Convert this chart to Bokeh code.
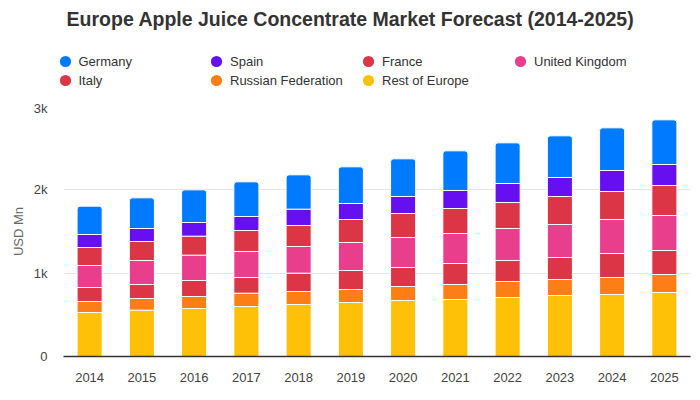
from bokeh.plotting import figure
from bokeh.layouts import column, row
from bokeh.models import (FactorRange, Range1d, FixedTicker, Legend, LegendItem,
                          ColumnDataSource, Label)
from bokeh.embed import file_html
from bokeh.resources import INLINE

title_text = "Europe Apple Juice Concentrate Market Forecast (2014-2025)"
years = [str(y) for y in range(2014, 2026)]

rest_of_europe = [528, 556, 576, 600, 624, 648, 672, 684, 708, 732, 744, 768]
russian_federation = [132, 140, 144, 160, 156, 156, 168, 180, 192, 192, 204, 216]
italy = [168, 168, 192, 188, 220, 228, 228, 252, 252, 264, 288, 288]
united_kingdom = [264, 288, 304, 312, 320, 336, 360, 360, 384, 396, 408, 420]
france = [216, 228, 228, 252, 252, 276, 288, 300, 312, 336, 336, 360]
spain = [156, 156, 164, 168, 196, 192, 204, 216, 228, 228, 252, 252]
germany = [340, 368, 392, 416, 412, 440, 452, 476, 488, 500, 512, 536]

series_names = ["Rest of Europe", "Russian Federation", "Italy", "United Kingdom",
                "France", "Spain", "Germany"]
series_values = [rest_of_europe, russian_federation, italy, united_kingdom,
                 france, spain, germany]
series_colors = ["#ffc107", "#fd7e14", "#dc3545", "#e83e8c",
                 "#dc3545", "#6610f2", "#007bff"]
legend_rows = [["Germany", "Spain", "France", "United Kingdom"],
               ["Italy", "Russian Federation", "Rest of Europe"]]

y_ticks = [0, 1000, 2000, 3000]
y_tick_labels = ["0", "1k", "2k", "3k"]

keys = ["s%d" % i for i in range(len(series_names))]
data = {"year": years}
for k, v in zip(keys, series_values):
    data[k] = v
source = ColumnDataSource(data)

FONT = "Liberation Sans"

# ---------- header: title + legend ----------
top_h = 100
head = figure(width=700, height=top_h, x_range=FactorRange(*years),
              y_range=Range1d(0, y_ticks[-1]), output_backend="svg",
              toolbar_location=None, min_border=0, x_axis_type=None,
              y_axis_type=None)
head.outline_line_color = None
head.xgrid.visible = False
head.ygrid.visible = False
head.border_fill_color = "white"
head.background_fill_color = "white"

head.add_layout(Label(x=350, y=top_h - 18, x_units="screen", y_units="screen",
                      text=title_text, text_align="center",
                      text_baseline="middle", text_font=FONT,
                      text_font_size="19.5px", text_font_style="bold",
                      text_color="#333333"))

# legend: one single-item legend per slot (circle centre x, row centre y in px)
col_centres = [64.5, 216, 368, 520]
row_centres = [61.3, 80.3]
GW, GH = 28, 30
for ri, names in enumerate(legend_rows):
    for ci, name in enumerate(names):
        idx = series_names.index(name)
        r = head.scatter(x="year", y=keys[idx], source=source, marker="circle",
                         size=0, color=series_colors[idx], line_color=None)
        lg = Legend(items=[LegendItem(label=name, renderers=[r])],
                    orientation="horizontal", glyph_width=GW, glyph_height=GH,
                    label_standoff=0, label_height=19, spacing=0, padding=0,
                    margin=0, border_line_color=None, background_fill_alpha=0,
                    label_text_font=FONT, label_text_font_size="13px",
                    label_text_color="#333333",
                    location=(col_centres[ci] - GW / 2,
                              top_h - row_centres[ri] - GH / 2))
        head.add_layout(lg, "center")

# ---------- chart ----------
p = figure(width=700, height=400 - top_h, x_range=FactorRange(*years),
           y_range=Range1d(0, y_ticks[-1]), output_backend="svg",
           toolbar_location=None, min_border_left=63, min_border_right=10,
           min_border_top=6, min_border_bottom=44)
p.outline_line_color = None
p.background_fill_color = "white"
p.border_fill_color = "white"

renderers = p.vbar_stack(keys, x="year", source=source, width=0.48,
                         color=series_colors, line_color="white", line_width=1)
renderers[-1].glyph.border_radius = (3, 3, 0, 0)

p.yaxis.ticker = FixedTicker(ticks=y_ticks)
p.yaxis.major_label_overrides = dict(zip(y_ticks, y_tick_labels))
p.yaxis.axis_line_color = None
p.yaxis.major_tick_line_color = None
p.yaxis.minor_tick_line_color = None
p.yaxis.major_label_standoff = 10
p.yaxis.major_label_text_font = FONT
p.yaxis.major_label_text_font_size = "13px"
p.yaxis.major_label_text_color = "#444444"
p.yaxis.axis_label = "USD Mn"
p.yaxis.axis_label_text_font = FONT
p.yaxis.axis_label_text_font_size = "13px"
p.yaxis.axis_label_text_font_style = "normal"
p.yaxis.axis_label_text_color = "#666666"
p.yaxis.axis_label_standoff = 5

p.xaxis.axis_line_color = "#333333"
p.xaxis.axis_line_width = 1.5
p.xaxis.major_tick_line_color = None
p.xaxis.minor_tick_line_color = None
p.xaxis.major_label_standoff = 10
p.xaxis.major_label_text_font = FONT
p.xaxis.major_label_text_font_size = "13px"
p.xaxis.major_label_text_color = "#444444"

p.xgrid.grid_line_color = None
p.ygrid.grid_line_color = "#e6e6e6"
p.ygrid.grid_line_width = 1

layout = column(row(head), p, spacing=0)
open("out.html", "w").write(file_html(layout, INLINE))
